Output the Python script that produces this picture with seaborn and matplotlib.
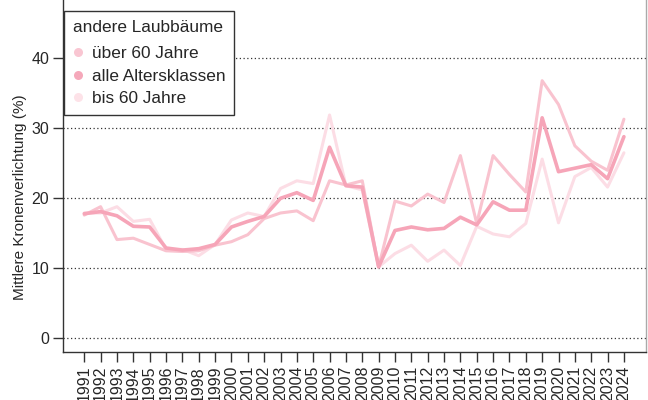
import matplotlib
matplotlib.use("Agg")
import matplotlib.pyplot as plt
from matplotlib.lines import Line2D
import seaborn as sns
import pandas as pd

years = list(range(1991, 2025))
ueber60 = [17.6, 18.8, 14.1, 14.3, 13.4, 12.5, 12.4, 12.5, 13.3, 13.8, 14.8, 17.1,
           17.9, 18.2, 16.8, 22.5, 21.9, 22.5, 10.2, 19.6, 18.9, 20.6, 19.4, 26.1,
           16.4, 26.1, 23.4, 20.9, 36.8, 33.4, 27.5, 25.3, 24.0, 31.3]
alle = [17.8, 18.1, 17.5, 16.0, 15.9, 12.9, 12.6, 12.8, 13.4, 15.9, 16.7, 17.4,
        20.0, 20.8, 19.7, 27.3, 21.8, 21.6, 10.2, 15.4, 15.9, 15.5, 15.7, 17.3,
        16.2, 19.5, 18.3, 18.3, 31.5, 23.8, 24.3, 24.8, 22.8, 28.8]
bis60 = [17.9, 17.9, 18.8, 16.7, 17.0, 12.7, 12.7, 11.8, 13.4, 16.9, 17.9, 17.4,
         21.4, 22.5, 22.1, 31.9, 21.8, 21.2, 10.2, 12.1, 13.3, 11.0, 12.6, 10.4,
         16.0, 14.9, 14.5, 16.4, 25.6, 16.5, 23.1, 24.4, 21.6, 26.5]
series_names = ["über 60 Jahre", "alle Altersklassen", "bis 60 Jahre"]
legend_title = "andere Laubbäume"
y_label = "Mittlere Kronenverlichtung (%)"
y_ticks = [0, 10, 20, 30, 40]

colors = {"über 60 Jahre": "#f9c3cf", "alle Altersklassen": "#f6a5b8", "bis 60 Jahre": "#fcdde5"}
widths = {"über 60 Jahre": 2.2, "alle Altersklassen": 2.6, "bis 60 Jahre": 2.2}

df = pd.DataFrame({"Jahr": years * 3,
                   "Wert": ueber60 + alle + bis60,
                   "Serie": [series_names[0]] * len(years) + [series_names[1]] * len(years)
                            + [series_names[2]] * len(years)})

sns.set_style("white")
plt.rcParams["font.family"] = ["Liberation Sans", "DejaVu Sans"]

fig = plt.figure(figsize=(6.48, 4.0), dpi=100)
ax = fig.add_axes([63 / 648, 48 / 400, (646 - 63) / 648, 352 / 400])

for y in y_ticks:
    ax.axhline(y, color="#333333", linestyle=(0, (1, 2.0)), linewidth=0.9, zorder=1)

for name in ["bis 60 Jahre", "über 60 Jahre", "alle Altersklassen"]:
    sub = df[df["Serie"] == name]
    sns.lineplot(data=sub, x="Jahr", y="Wert", color=colors[name], linewidth=widths[name],
                 ax=ax, legend=False, zorder=3)

ax.set_xlim(1989.7, 2025.35)
ax.set_ylim(-1.96, 48.33)
ax.set_xticks(years)
ax.set_xticklabels([str(y) for y in years], rotation=90, fontsize=11.5)
ax.set_yticks(y_ticks)
ax.set_yticklabels([str(y) for y in y_ticks], fontsize=11.5)
ax.tick_params(axis="both", direction="out", length=7, width=1, color="#333333",
               left=True, bottom=True, pad=3)
ax.set_xlabel("")
ax.set_ylabel(y_label, fontsize=11)
ax.yaxis.set_label_coords(-0.062, 0.44)

ax.spines["top"].set_visible(False)
for s in ["left", "bottom", "right"]:
    ax.spines[s].set_color("#333333")
    ax.spines[s].set_linewidth(1.0)
ax.spines["right"].set_color("#aaaaaa")

handles = [Line2D([], [], linestyle="none", marker="o", markersize=6.5, markeredgewidth=0,
                  markerfacecolor=c) for c in ["#f9c6d2", "#f5a8ba", "#fde2e8"]]
leg = fig.legend(handles, series_names, title=legend_title, loc="upper left",
                 bbox_to_anchor=(64 / 648, 1 - 11 / 400), borderaxespad=0,
                 frameon=True, fancybox=False,
                 framealpha=1, edgecolor="#333333", fontsize=12.4, title_fontsize=12.4,
                 alignment="left", handletextpad=0.5, labelspacing=0.45,
                 borderpad=0.5, handlelength=0.6)
leg.get_frame().set_linewidth(1.0)
leg._legend_box.sep = 8

fig.savefig("out.png", dpi=100)
